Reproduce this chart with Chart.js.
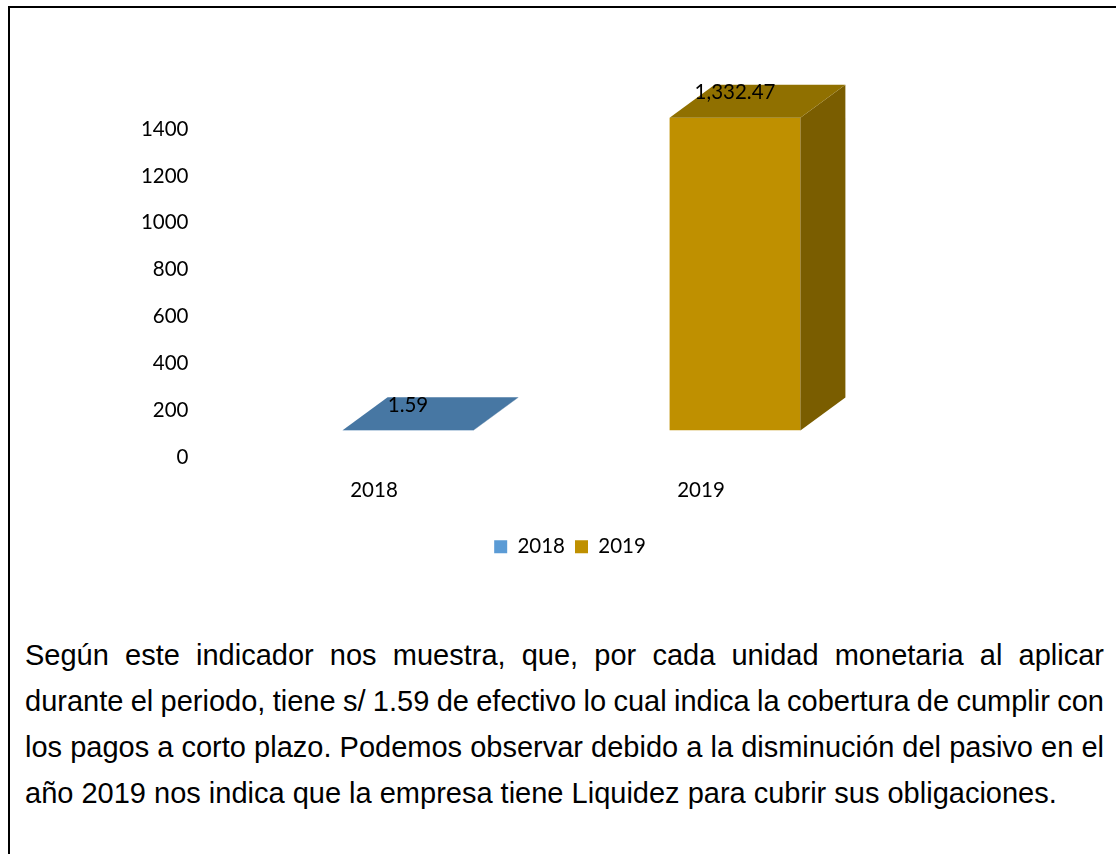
<!DOCTYPE html>
<html>
<head>
<meta charset="utf-8">
<script src="https://cdn.jsdelivr.net/npm/chart.js@4"></script>
<style>
  html, body { margin: 0; padding: 0; background: #fff; overflow: hidden; }
  #frame { position: absolute; left: 8px; top: 6px; width: 1200px; height: 1000px; border: 2px solid #000; pointer-events: none; }
  #chart { position: absolute; left: 0; top: 0; }
  #note { position: absolute; left: 25px; top: 632px; width: 1079px; font-family: "Liberation Sans", Arial, sans-serif; font-size: 29px; line-height: 46px; color: #000; }
  #note div { text-align: justify; text-align-last: justify; white-space: nowrap; }
  #note div.tight { word-spacing: -1px; }
  #note div.last { text-align-last: left; }
</style>
</head>
<body>
<canvas id="chart" width="1116" height="600"></canvas>
<div id="note">
  <div>Según este indicador nos muestra, que, por cada unidad monetaria al aplicar</div>
  <div class="tight">durante el periodo, tiene s/ 1.59 de efectivo lo cual indica la cobertura de cumplir con</div>
  <div>los pagos a corto plazo. Podemos observar debido a la disminución del pasivo en el</div>
  <div class="last">año 2019 nos indica que la empresa tiene Liquidez para cubrir sus obligaciones.</div>
</div>
<div id="frame"></div>
<script>
const categories = ['2018', '2019'];
const series2018 = [1.59, null];
const series2019 = [null, 1332.47];
const yTicks = { min: 0, max: 1400, step: 200 };

// colores de las caras (frente, tapa, lateral)
const faceColors = {
    '2018': { front: '#5B9BD5', top: '#4777A3', side: '#3B6288' },
    '2019': { front: '#BF9000', top: '#907000', side: '#7A5D00' }
};

// efecto 3D tipo Excel
const depth = { dx: 45, dy: 33 };
const shift = { x: 34, y: -27 };

const fontName = 'Lato, "Noto Sans", sans-serif';
const fontSize = 20.5;

const bars3d = {
    id: 'bars3d',
    beforeDatasetsDraw(chart) {
        chart.ctx.save();
        chart.ctx.translate(shift.x, shift.y);
    },
    afterDatasetsDraw(chart) {
        const ctx = chart.ctx;
        chart.data.datasets.forEach((ds, i) => {
            const meta = chart.getDatasetMeta(i);
            const c = faceColors[ds.label];
            meta.data.forEach((bar, j) => {
                if (ds.data[j] == null) return;
                const l = bar.x - bar.width / 2, r = bar.x + bar.width / 2;
                const t = bar.y, b = bar.base;
                // lateral
                ctx.fillStyle = c.side;
                ctx.beginPath();
                ctx.moveTo(r, t);
                ctx.lineTo(r + depth.dx, t - depth.dy);
                ctx.lineTo(r + depth.dx, b - depth.dy);
                ctx.lineTo(r, b);
                ctx.closePath();
                ctx.fill();
                // tapa
                ctx.fillStyle = c.top;
                ctx.beginPath();
                ctx.moveTo(l, t);
                ctx.lineTo(r, t);
                ctx.lineTo(r + depth.dx, t - depth.dy);
                ctx.lineTo(l + depth.dx, t - depth.dy);
                ctx.closePath();
                ctx.fill();
                // etiqueta
                ctx.fillStyle = '#000';
                ctx.font = fontSize + 'px ' + fontName;
                ctx.textAlign = 'center';
                ctx.textBaseline = 'middle';
                const txt = ds.data[j].toLocaleString('en-US', { minimumFractionDigits: 2, maximumFractionDigits: 2 });
                ctx.fillText(txt, bar.x, t - 25);
            });
        });
        ctx.restore();
    }
};

new Chart(document.getElementById('chart').getContext('2d'), {
    type: 'bar',
    data: {
        labels: categories,
        datasets: [
            { label: '2018', data: series2018, backgroundColor: faceColors['2018'].front },
            { label: '2019', data: series2019, backgroundColor: faceColors['2019'].front }
        ]
    },
    options: {
        responsive: false,
        devicePixelRatio: 1,
        animation: false,
        grouped: false,
        skipNull: true,
        barPercentage: 0.4,
        categoryPercentage: 1.0,
        layout: { padding: { left: 24, right: 0, top: 129, bottom: 33 } },
        plugins: {
            tooltip: { enabled: false },
            legend: {
                display: true,
                position: 'bottom',
                labels: {
                    boxWidth: 13,
                    boxHeight: 13,
                    padding: 10,
                    color: '#000',
                    font: { family: fontName, size: fontSize }
                }
            }
        },
        scales: {
            x: {
                grid: { display: false, drawTicks: false },
                border: { display: false },
                ticks: { color: '#000', padding: 21, font: { family: fontName, size: fontSize } },
                afterFit: (s) => { s.height = 69; }
            },
            y: {
                min: yTicks.min,
                max: yTicks.max,
                grid: { display: false, drawTicks: false },
                border: { display: false },
                ticks: {
                    stepSize: yTicks.step,
                    color: '#000',
                    padding: 22,
                    font: { family: fontName, size: fontSize },
                    callback: (v) => String(v)
                },
                afterFit: (s) => { s.width = 186.5; }
            },
            // eje vacío a la derecha, solo para reservar espacio
            yRight: {
                position: 'right',
                grid: { display: false, drawTicks: false },
                border: { display: false },
                ticks: { display: false },
                afterFit: (s) => { s.width = 251.5; }
            }
        }
    },
    plugins: [bars3d]
});
</script>
</body>
</html>
